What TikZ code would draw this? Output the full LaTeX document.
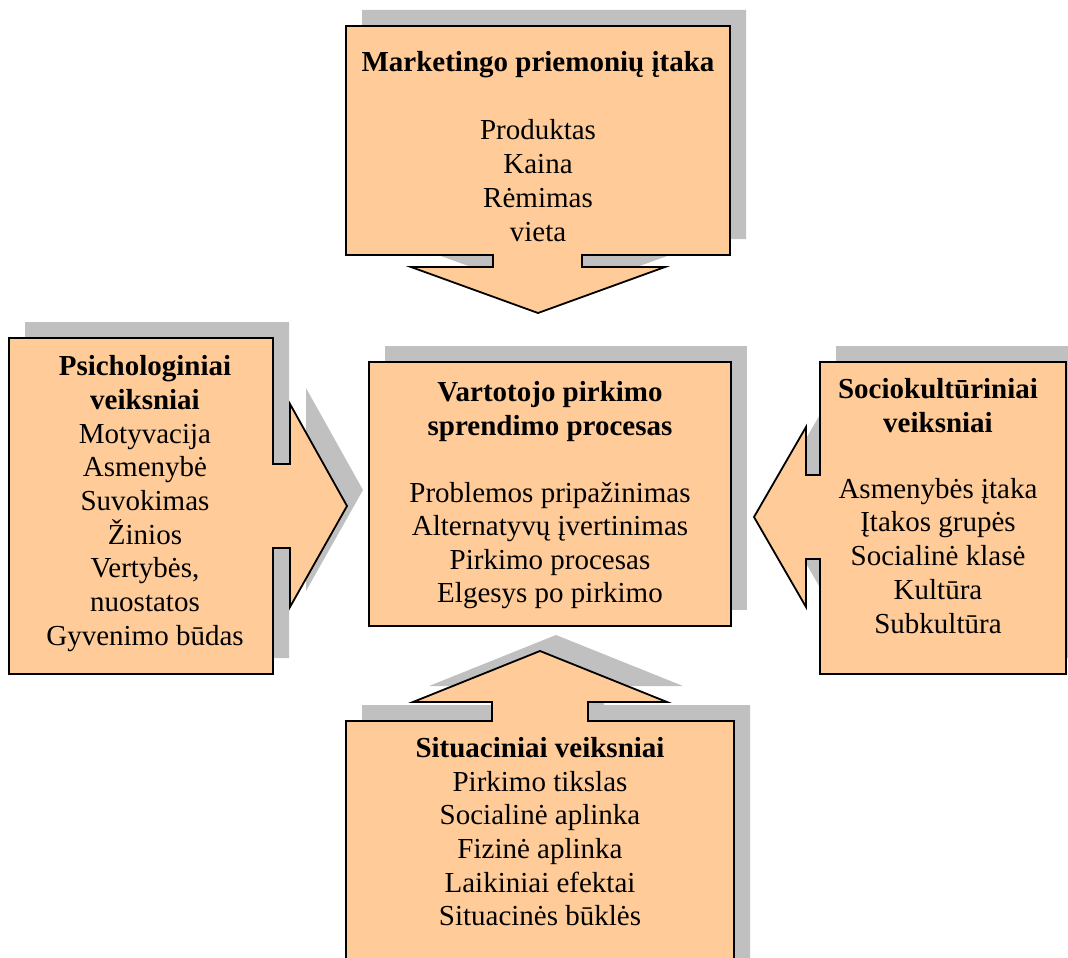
\documentclass[tikz,border=0pt]{standalone}
\usepackage{fontspec}
\setmainfont{Liberation Serif}
\definecolor{peach}{HTML}{FFCC99}
\definecolor{shadowgrey}{HTML}{C0C0C0}
\begin{document}
\begin{tikzpicture}[x=1pt,y=-1pt,
  box/.style={fill=peach, draw=black, line width=1.8pt, line join=miter},
  shadowfill/.style={fill=shadowgrey, shift={(16,-16)}},
  txt/.style={font=\fontsize{29}{34}\selectfont, anchor=base, inner sep=0pt},
  ttl/.style={txt, font=\fontsize{29}{34}\selectfont\bfseries},
  topshape/.style={insert path={(346,26) -- (730,26) -- (730,255) -- (582,255) -- (582,267) -- (665,267) -- (538,313) -- (411,267) -- (493,267) -- (493,255) -- (346,255) -- cycle}},
  leftshape/.style={insert path={(9,338) -- (273,338) -- (273,464) -- (290,464) -- (290,404) -- (347,506) -- (290,607) -- (290,548) -- (273,548) -- (273,674) -- (9,674) -- cycle}},
  rightshape/.style={insert path={(1066,362) -- (820,362) -- (820,475) -- (806,475) -- (806,427) -- (754,517) -- (806,607) -- (806,559) -- (820,559) -- (820,674) -- (1066,674) -- cycle}},
  bottomshape/.style={insert path={(346,721) -- (492,721) -- (492,702) -- (413,702) -- (540,651) -- (667,702) -- (588,702) -- (588,721) -- (734,721) -- (734,975) -- (346,975) -- cycle}},
  centershape/.style={insert path={(369,362) rectangle (731,626)}}
]
\useasboundingbox (0,0) rectangle (1068,958);
\clip (0,0) rectangle (1068,958);

% shapes: grey offset shadow first, then the outlined peach callout
\foreach \s in {topshape,leftshape,rightshape,bottomshape,centershape}{
  \path[shadowfill,\s];
  \path[box,\s];
}

% top callout: marketing mix
\node[ttl] (top-title) at (538,72) {Marketingo priemonių įtaka};
\foreach \t [count=\i] in {Produktas,Kaina,Rėmimas,vieta}
  \node[txt] (top-\i) at (538,{139+34*(\i-1)}) {\t};

% left callout: psychological factors
\node[ttl] (left-title1) at (145,375) {Psichologiniai};
\node[ttl] (left-title2) at (145,409) {veiksniai};
\foreach \t [count=\i] in {Motyvacija,Asmenybė,Suvokimas,Žinios,{Vertybės,},nuostatos,Gyvenimo būdas}
  \node[txt] (left-\i) at (145,{443+33.7*(\i-1)}) {\t};

% centre box: purchase decision process
\node[ttl] (mid-title1) at (550,401) {Vartotojo pirkimo};
\node[ttl] (mid-title2) at (550,435) {sprendimo procesas};
\foreach \t [count=\i] in {Problemos pripažinimas,Alternatyvų įvertinimas,Pirkimo procesas,Elgesys po pirkimo}
  \node[txt] (mid-\i) at (550,{502+33.5*(\i-1)}) {\t};

% right callout: sociocultural factors
\node[ttl] (right-title1) at (938,398) {Sociokultūriniai};
\node[ttl] (right-title2) at (938,432) {veiksniai};
\foreach \t [count=\i] in {Asmenybės įtaka,Įtakos grupės,Socialinė klasė,Kultūra,Subkultūra}
  \node[txt] (right-\i) at (938,{498+33.8*(\i-1)}) {\t};

% bottom callout: situational factors
\node[ttl] (bot-title) at (540,757) {Situaciniai veiksniai};
\foreach \t [count=\i] in {Pirkimo tikslas,Socialinė aplinka,Fizinė aplinka,Laikiniai efektai,Situacinės būklės}
  \node[txt] (bot-\i) at (540,{791+33.7*(\i-1)}) {\t};
\end{tikzpicture}
\end{document}
